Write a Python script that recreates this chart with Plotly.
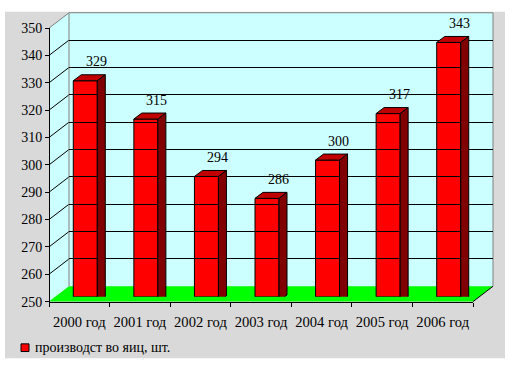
import plotly.graph_objects as go

# ---- data ----
categories = ["2000 год", "2001 год", "2002 год", "2003 год", "2004 год", "2005 год", "2006 год"]
values = [329, 315, 294, 286, 300, 317, 343]
y_ticks = [250, 260, 270, 280, 290, 300, 310, 320, 330, 340, 350]
series_name = "производст во яиц, шт."

# ---- layout geometry (pixels) ----
W, H = 511, 372
def px(x):
    return x / W
def py(y):
    return 1 - y / H

FONT = "Liberation Serif"
Y0, Y1 = y_ticks[0], y_ticks[-1]
# front axis plane
FL, FR, FB, FT = 49, 473, 307, 22
# depth offset of back wall
DX, DY = 20, 16
# bar plane offset from front plane
BX, BY = 6, 5
# bar 3-D depth
SX, SY = 8, 6
HALF = 12

BL, BR, BB, BT = FL + BX, FR + BX, FB - BY, FT - BY
pxu = (BB - BT) / (Y1 - Y0)       # pixels per unit on bar plane
fpxu = (FB - FT) / (Y1 - Y0)      # pixels per unit on front plane

RED = "#FF0000"
TOP = "#C00000"
SIDE = "#800000"
WALL = "#CCFFFF"
FLOOR = "#00FF00"
BG = "#D9D9D9"
EDGE = "#808080"

fig = go.Figure()

# bars (front faces)
fig.add_trace(go.Bar(
    x=categories, y=[v - Y0 for v in values], base=Y0,
    width=2 * HALF / ((BR - BL) / len(categories)),
    marker=dict(color=RED, line=dict(color="black", width=1)),
    name=series_name, showlegend=False, hoverinfo="skip",
    xaxis="x", yaxis="y",
))
# invisible helpers to create the front and back subplots
fig.add_trace(go.Scatter(x=categories, y=[None] * len(categories), xaxis="x2", yaxis="y2",
                         mode="markers", showlegend=False, hoverinfo="skip"))
fig.add_trace(go.Scatter(x=[0], y=[None], xaxis="x3", yaxis="y3",
                         mode="markers", showlegend=False, hoverinfo="skip"))

shapes = []
# chart background
shapes.append(dict(type="rect", xref="paper", yref="paper", x0=px(5), x1=px(505),
                   y0=py(366), y1=py(5), fillcolor=BG, line=dict(width=0), layer="below"))
# back wall
shapes.append(dict(type="rect", xref="x3 domain", yref="y3 domain", x0=0, x1=1, y0=0, y1=1,
                   fillcolor=WALL, line=dict(width=0), layer="below"))
# side wall
shapes.append(dict(type="path", xref="paper", yref="paper",
                   path=f"M{px(FL)},{py(FB)} L{px(FL)},{py(FT)} L{px(FL+DX)},{py(FT-DY)} L{px(FL+DX)},{py(FB-DY)} Z",
                   fillcolor=WALL, line=dict(width=0), layer="below"))
# floor
shapes.append(dict(type="path", xref="paper", yref="paper",
                   path=f"M{px(FL)},{py(FB)} L{px(FR)},{py(FB)} L{px(FR+DX)},{py(FB-DY)} L{px(FL+DX)},{py(FB-DY)} Z",
                   fillcolor=FLOOR, line=dict(width=0), layer="below"))
# side wall grid lines
for t in y_ticks[1:-1]:
    yf = FB - (t - Y0) * fpxu
    shapes.append(dict(type="line", xref="paper", yref="paper",
                       x0=px(FL), y0=py(yf), x1=px(FL + DX), y1=py(yf - DY),
                       line=dict(color="black", width=1), layer="below"))
# wall edges
for (xa, ya, xb, yb) in [(FL, FT, FL + DX, FT - DY), (FL + DX, FT - DY, FR + DX, FT - DY),
                         (FR + DX, FT - DY, FR + DX, FB - DY), (FL + DX, FT - DY, FL + DX, FB - DY)]:
    shapes.append(dict(type="line", xref="paper", yref="paper",
                       x0=px(xa), y0=py(ya), x1=px(xb), y1=py(yb),
                       line=dict(color=EDGE, width=1), layer="below"))
# floor right edge
shapes.append(dict(type="line", xref="paper", yref="paper",
                   x0=px(FR), y0=py(FB), x1=px(FR + DX), y1=py(FB - DY),
                   line=dict(color="black", width=1), layer="below"))

# bar top and side faces
for c, v in zip(categories, values):
    h = (v - Y0) * pxu
    shapes.append(dict(type="path", xref="x", yref="y", xsizemode="pixel", ysizemode="pixel",
                       xanchor=c, yanchor=v,
                       path=f"M{-HALF},0 L{HALF},0 L{HALF+SX},{SY} L{-HALF+SX},{SY} Z",
                       fillcolor=TOP, line=dict(color="black", width=1), layer="above"))
    shapes.append(dict(type="path", xref="x", yref="y", xsizemode="pixel", ysizemode="pixel",
                       xanchor=c, yanchor=v,
                       path=f"M{HALF},0 L{HALF+SX},{SY} L{HALF+SX},{SY-h} L{HALF},{-h} Z",
                       fillcolor=SIDE, line=dict(color="black", width=1), layer="above"))

# legend key
shapes.append(dict(type="rect", xref="paper", yref="paper", x0=px(21), x1=px(29),
                   y0=py(359), y1=py(351), fillcolor=RED, line=dict(color="black", width=1)))

annotations = []
for c, v in zip(categories, values):
    annotations.append(dict(x=c, y=v, xref="x", yref="y", text=str(v), showarrow=False,
                            xshift=11, yshift=19, yanchor="middle",
                            font=dict(family=FONT, size=14, color="black")))
annotations.append(dict(x=px(33), y=py(355), xref="paper", yref="paper", text=series_name,
                        showarrow=False, xanchor="left", yanchor="middle",
                        font=dict(family=FONT, size=14, color="black")))

fig.update_layout(
    width=W, height=H, autosize=False,
    margin=dict(l=0, r=0, t=0, b=0, pad=0),
    paper_bgcolor="white", plot_bgcolor="rgba(0,0,0,0)",
    showlegend=False,
    font=dict(family=FONT, size=14, color="black"),
    xaxis=dict(domain=[px(BL), px(BR)], type="category", categoryarray=categories,
               range=[-0.5, len(categories) - 0.5], visible=False, anchor="y"),
    yaxis=dict(domain=[py(BB), py(BT)], range=[Y0, Y1], visible=False, anchor="x"),
    xaxis2=dict(domain=[px(FL), px(FR)], type="category", categoryarray=categories,
                range=[-0.5, len(categories) - 0.5], anchor="y2",
                showline=True, linecolor="black", linewidth=1,
                ticks="outside", tickson="boundaries", ticklen=4, tickcolor="black",
                ticklabelstandoff=7, tickangle=0,
                showgrid=False, zeroline=False,
                tickfont=dict(family=FONT, size=14.6, color="black")),
    yaxis2=dict(domain=[py(FB), py(FT)], range=[Y0, Y1], anchor="free", position=px(FL),
                tickmode="array", tickvals=y_ticks,
                showline=True, linecolor="black", linewidth=1,
                ticks="outside", ticklen=4, tickcolor="black",
                showgrid=False, zeroline=False,
                tickfont=dict(family=FONT, size=14, color="black")),
    xaxis3=dict(domain=[px(FL + DX), px(FR + DX)], range=[0, 1], visible=False, anchor="y3"),
    yaxis3=dict(domain=[py(FB - DY), py(FT - DY)], range=[Y0, Y1], anchor="x3",
                tickmode="array", tickvals=y_ticks[1:-1],
                showgrid=True, gridcolor="black", gridwidth=1,
                showticklabels=False, ticks="", zeroline=False, showline=False),
    shapes=shapes,
    annotations=annotations,
)

fig.write_html("out.html", config={"displayModeBar": False, "staticPlot": True},
               post_script="document.body.style.margin='0';")
